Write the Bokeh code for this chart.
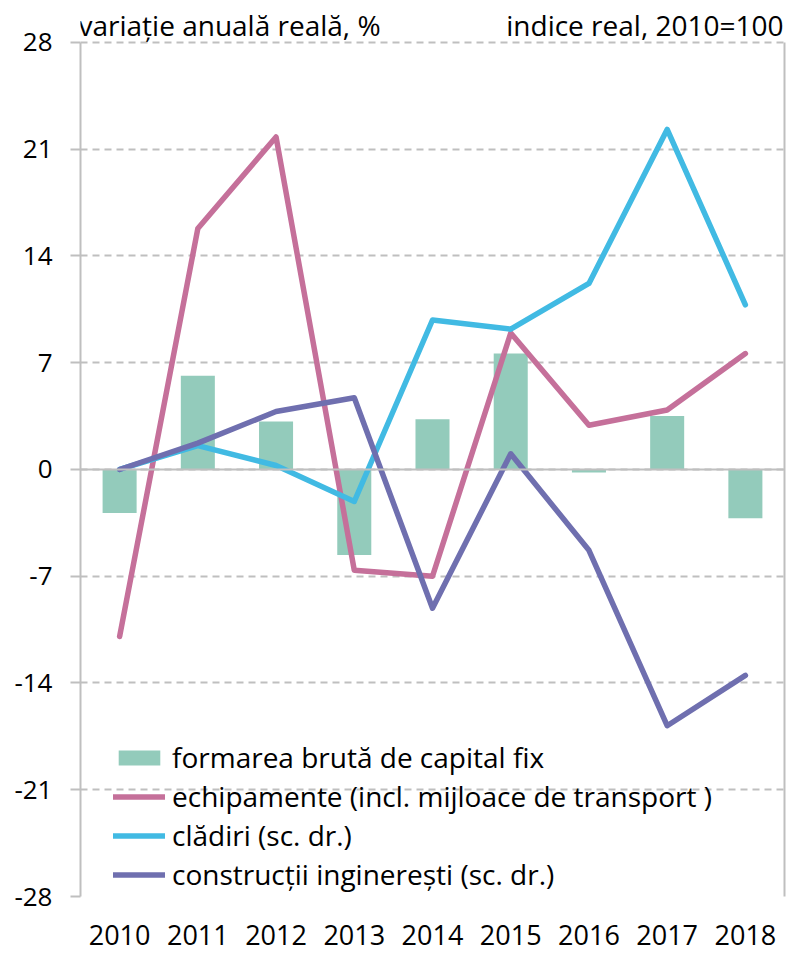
from bokeh.plotting import figure
from bokeh.models import (Range1d, Span, Legend, LegendItem, Label, LinearAxis,
                          FixedTicker, SingleIntervalTicker, ColumnDataSource,
                          PrintfTickFormatter)
from bokeh.embed import file_html
from bokeh.resources import INLINE

years = ["2010", "2011", "2012", "2013", "2014", "2015", "2016", "2017", "2018"]
gfcf = [-2.85, 6.15, 3.15, -5.6, 3.3, 7.6, -0.2, 3.5, -3.2]
echipamente = [-10.95, 15.8, 21.8, -6.6, -7.0, 8.95, 2.9, 3.9, 7.6]
cladiri = [0.0, 1.57, 0.26, -2.1, 9.8, 9.2, 12.2, 22.3, 10.8]
constructii = [0.0, 1.73, 3.8, 4.7, -9.1, 1.03, -5.3, -16.8, -13.5]

names = ["formarea brută de capital fix",
         "echipamente (incl. mijloace de transport )",
         "clădiri (sc. dr.)",
         "construcții inginerești (sc. dr.)"]
title_left = "variație anuală reală, %"
title_right = "indice real, 2010=100"

FONT = "Open Sans"
GRID = "#BFBFBF"
C_BAR = "#93CBBB"
C_PINK = "#C5709A"
C_CYAN = "#41BAE3"
C_PURP = "#6F6FAF"

src = ColumnDataSource(dict(year=years, gfcf=gfcf, echip=echipamente,
                            clad=cladiri, constr=constructii))

p = figure(x_range=years, y_range=Range1d(-28, 30.49), width=788, height=953,
           output_backend="svg", toolbar_location=None,
           min_border_left=80, min_border_right=4, min_border_top=4,
           min_border_bottom=57)
p.extra_y_ranges = {"right": Range1d(-28, 30.49)}
p.outline_line_color = None
p.background_fill_color = "white"

# axes
p.yaxis.ticker = SingleIntervalTicker(interval=7)
p.yaxis.formatter = PrintfTickFormatter(format="%d")
p.yaxis.bounds = (-28, 28)
p.yaxis.axis_line_color = GRID
p.yaxis.axis_line_width = 2
p.yaxis.major_tick_line_color = GRID
p.yaxis.major_tick_line_width = 2
p.yaxis.major_tick_out = 10
p.yaxis.major_tick_in = 0
p.yaxis.minor_tick_line_color = None
p.yaxis.major_label_text_font = FONT
p.yaxis.major_label_text_font_size = "26px"
p.yaxis.major_label_text_color = "black"
p.yaxis.major_label_standoff = 18

p.xaxis.axis_line_color = None
p.xaxis.major_tick_line_color = None
p.xaxis.major_label_text_font = FONT
p.xaxis.major_label_text_font_size = "27px"
p.xaxis.major_label_text_color = "black"
p.xaxis.major_label_standoff = 22

ax_r = LinearAxis(y_range_name="right", ticker=FixedTicker(ticks=[]),
                  bounds=(-28, 28),
                  axis_line_color=GRID, axis_line_width=2,
                  major_tick_line_color=None, minor_tick_line_color=None)
p.add_layout(ax_r, "right")

p.xgrid.grid_line_color = None
p.ygrid.ticker = SingleIntervalTicker(interval=7)
p.ygrid.grid_line_color = GRID
p.ygrid.grid_line_width = 2
p.ygrid.grid_line_dash = "7 5"

p.add_layout(Span(location=0, dimension="width", line_color=GRID, line_width=2))

r_bar = p.vbar(x="year", top="gfcf", width=0.435, source=src,
               fill_color=C_BAR, line_color=None)
r_pink = p.line(x="year", y="echip", source=src, line_color=C_PINK,
                line_width=5.5, line_join="round", line_cap="round")
r_cyan = p.line(x="year", y="clad", source=src, line_color=C_CYAN,
                line_width=5.5, line_join="round", line_cap="round",
                y_range_name="right")
r_purp = p.line(x="year", y="constr", source=src, line_color=C_PURP,
                line_width=5.5, line_join="round", line_cap="round",
                y_range_name="right")

legend = Legend(items=[LegendItem(label=names[0], renderers=[r_bar]),
                       LegendItem(label=names[1], renderers=[r_pink]),
                       LegendItem(label=names[2], renderers=[r_cyan]),
                       LegendItem(label=names[3], renderers=[r_purp])],
                location=(33, 3), orientation="vertical",
                background_fill_alpha=0, border_line_color=None,
                padding=0, margin=0, spacing=1,
                glyph_width=52, glyph_height=19, label_height=38,
                label_standoff=7,
                label_text_font=FONT, label_text_font_size="28px",
                label_text_color="black")
p.add_layout(legend, "center")

p.add_layout(Label(x=0, y=28, text=title_left, x_offset=-2,
                   text_font=FONT, text_font_size="28px", text_color="black",
                   text_align="left", text_baseline="alphabetic", y_offset=17))
p.add_layout(Label(x=9, y=28, text=title_right, x_offset=-1,
                   text_font=FONT, text_font_size="28px", text_color="black",
                   text_align="right", text_baseline="alphabetic", y_offset=17))

open("out.html", "w").write(file_html(p, INLINE))
